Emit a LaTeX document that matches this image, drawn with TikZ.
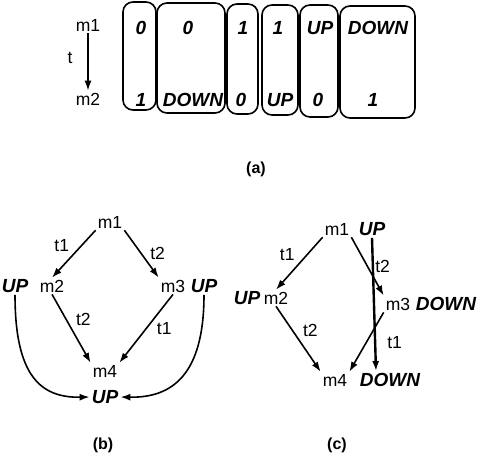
\documentclass[tikz,border=0pt]{standalone}
\usepackage{fontspec}
\setmainfont{Liberation Sans}
\usetikzlibrary{positioning,arrows.meta,calc}

\tikzset{
  lab/.style={font=\fontsize{17.5}{20}\selectfont, inner sep=2pt},
  val/.style={font=\fontsize{19}{20}\selectfont\bfseries\itshape, inner sep=2pt},
  sublab/.style={font=\fontsize{16}{18}\selectfont\bfseries},
  cell/.style={draw, line width=1.6pt, rounded corners=10pt, inner sep=0pt},
  arr/.style={-{Latex[length=10pt,width=7pt]}, line width=1.6pt},
}

\begin{document}
\begin{tikzpicture}[x=1pt,y=-1pt]
  \useasboundingbox (0,0) rectangle (480,462);

  % (a) the six value pairs
  \node[lab] (am1) at (88,25) {m1};
  \node[lab] (am2) at (88,99) {m2};
  \node[lab] (at) at (70,58) {t};
  \draw[arr] (am1) -- (am2);
  \foreach \i/\cx/\cy/\w/\h/\tx/\ta/\bx/\ba in {
      1/139.5/56/33/108/141/0/141/1,
      2/191/58/68/110/188/0/193/DOWN,
      3/242.5/59/31/110/243/1/241/0,
      4/280/60/36/110/278/1/280/UP,
      5/319/61/38/112/320/UP/318/0,
      6/377.5/62/75/112/378/DOWN/373/1} {
    \node[cell, minimum width=\w pt, minimum height=\h pt] (cell\i) at (\cx,\cy) {};
    \node[val] (top\i) at (\tx,28) {\ta};
    \node[val] (bot\i) at (\bx,100) {\ba};
  }
  \node[sublab] (capa) at (256,169) {(a)};

  % (b)
  \node[lab] (bm1) at (110,222) {m1};
  \node[lab] (bm2) at (52,286) {m2};
  \node[val] (bup2) at (15,286) {UP};
  \node[lab] (bm3) at (173,286) {m3};
  \node[val] (bup3) at (204,286) {UP};
  \node[lab] (bm4) at (105,371) {m4};
  \node[val] (bup4) at (105,397) {UP};
  \draw[arr] (bm1.south west) -- node[lab, above left=0pt and 2pt] {t1} (bm2.north);
  \draw[arr] (bm1.south east) -- node[lab, right=6pt] {t2} (bm3.north west);
  \draw[arr] (bm2.south) -- node[lab, above right=0pt and 2pt] {t2} (bm4.north west);
  \draw[arr] (bm3.south) -- node[lab, right=8pt] {t1} (bm4.north east);
  \draw[arr] (bup2.south) .. controls (15,375) and (40,398) .. (bup4.west);
  \draw[arr] (bup3.south) .. controls (204,375) and (172,398) .. (bup4.east);
  \node[sublab] (capb) at (103,445) {(b)};

  % (c)
  \node[lab] (cm1) at (337,229) {m1};
  \node[val] (cup1) at (372,229) {UP};
  \node[lab] (cm2) at (276,298) {m2};
  \node[val] (cup2) at (247,298) {UP};
  \node[lab] (cm3) at (398,304) {m3};
  \node[val] (cdown3) at (446,304) {DOWN};
  \node[lab] (cm4) at (335,380) {m4};
  \node[val] (cdown4) at (390,380) {DOWN};
  \draw[arr] (cm1.south west) -- node[lab, above left=0pt and 2pt] {t1} (cm2.north);
  \draw[arr] (cm1.south east) -- node[lab, right=5pt] {t2} (cm3.north west);
  \draw[arr] (cm2.south) -- node[lab, above right=0pt and 2pt] {t2} (cm4.north west);
  \draw[arr] (cm3.south west) -- node[lab, right=18pt] {t1} (cm4.north east);
  \draw[arr, line width=2.4pt] (cup1.south) -- ([xshift=-14pt]cdown4.north);
  \node[sublab] (capc) at (337,445) {(c)};
\end{tikzpicture}
\end{document}
